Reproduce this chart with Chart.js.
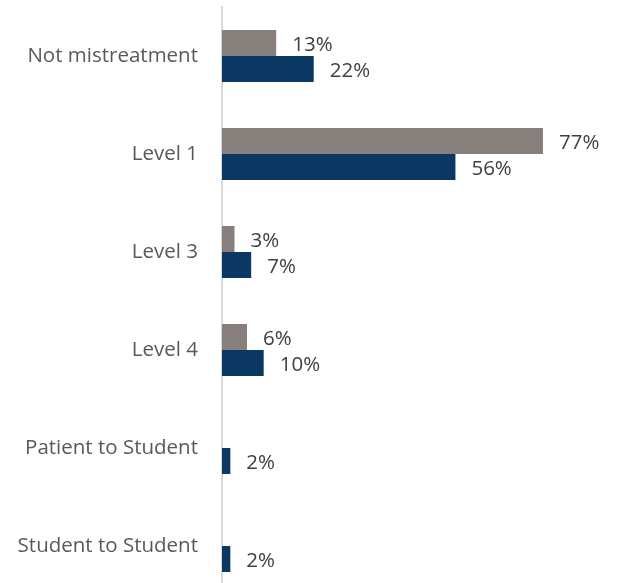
<!DOCTYPE html>
<html>
<head>
<meta charset="utf-8">
<script src="https://cdn.jsdelivr.net/npm/chart.js@4/dist/chart.umd.min.js"></script>
<style>
  html, body { margin: 0; padding: 0; background: #fff; overflow: hidden; }
  #wrap { width: 618px; height: 600px; }
</style>
</head>
<body>
<div id="wrap"><canvas id="myChart"></canvas></div>
<script>
'use strict';

var categories = ['Not mistreatment', 'Level 1', 'Level 3', 'Level 4', 'Patient to Student', 'Student to Student'];
var greyValues = [13, 77, 3, 6, null, null];
var navyValues = [22, 56, 7, 10, 2, 2];

var fontFamily = '"Open Sans", "DejaVu Sans", sans-serif';

//writes the percentage just past the end of every bar
var valueLabels = {
  id: 'valueLabels',
  afterDatasetsDraw: function(chart) {
    var ctx = chart.ctx;
    ctx.save();
    ctx.font = '20.5px ' + fontFamily;
    ctx.fillStyle = '#404040';
    ctx.textAlign = 'left';
    ctx.textBaseline = 'middle';
    chart.data.datasets.forEach(function(ds, i) {
      var meta = chart.getDatasetMeta(i);
      meta.data.forEach(function(bar, j) {
        var v = ds.data[j];
        if (v === null) {
          return;
        };
        ctx.fillText(v + '%', bar.x + 16, bar.y + 2);
      });
    });
    ctx.restore();
  }
};

var ctx = document.getElementById('myChart').getContext('2d');

var chart = new Chart(ctx, {
  type: 'bar',
  data: {
    labels: categories,
    datasets: [{
      label: 'Grey',
      backgroundColor: '#877f7b',
      data: greyValues
    },
    {
      label: 'Navy',
      backgroundColor: '#0b3862',
      data: navyValues
    }]
  },
  options: {
    indexAxis: 'y',
    responsive: true,
    maintainAspectRatio: false,
    animation: false,
    categoryPercentage: 0.531,
    barPercentage: 1,
    layout: {
      padding: { top: 7, bottom: 5, left: 0, right: 0 }
    },
    plugins: {
      legend: { display: false },
      tooltip: { enabled: false }
    },
    scales: {
      x: {
        display: false,
        min: 0,
        max: 95
      },
      y: {
        // fixed label column, and no extra room above/below for the labels
        afterFit: function(scale) {
          scale.width = 222;
          scale.paddingTop = 0;
          scale.paddingBottom = 0;
        },
        grid: { display: false, drawTicks: false },
        border: { display: true, color: '#d9d9d9', width: 2 },
        ticks: {
          padding: 24,
          color: '#595959',
          font: { family: fontFamily, size: 20.5 }
        }
      }
    }
  },
  plugins: [valueLabels]
});
</script>
</body>
</html>
